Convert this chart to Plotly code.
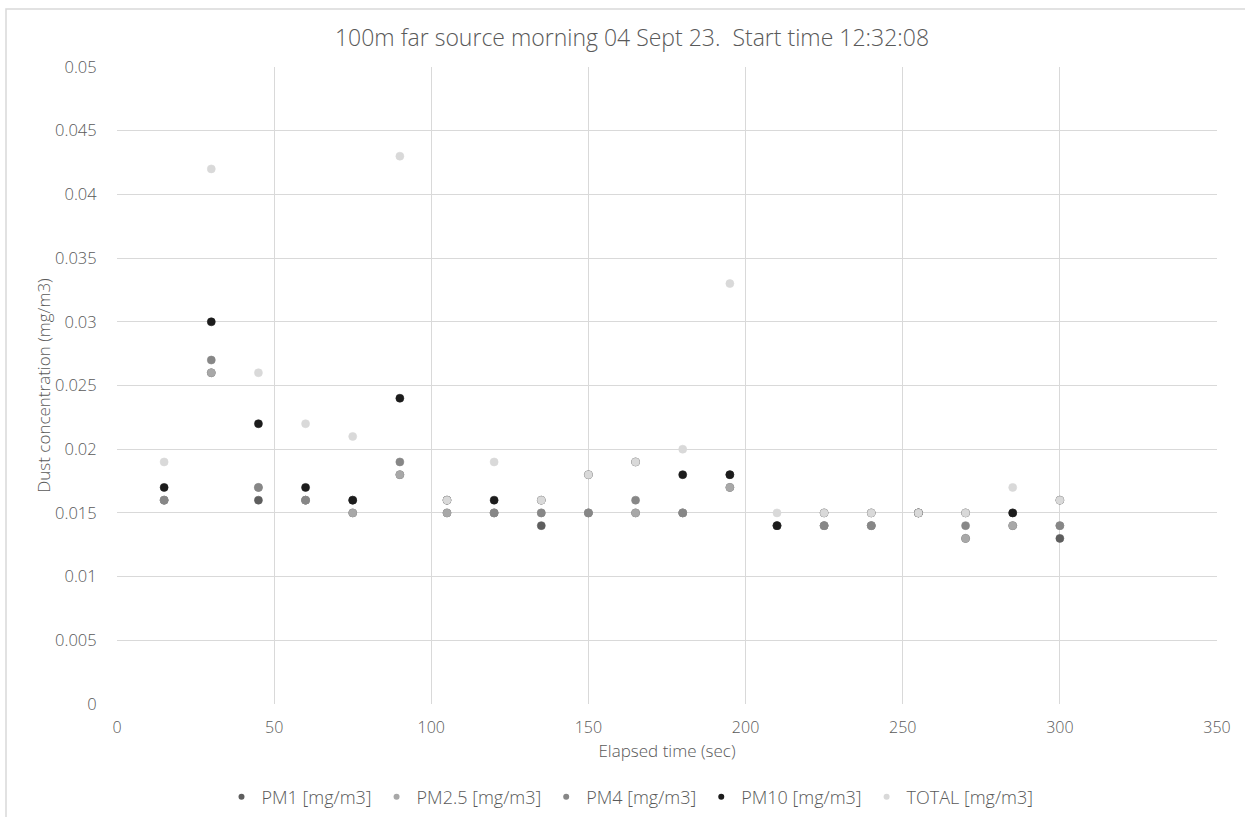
import plotly.graph_objects as go

# Elapsed time of each reading (seconds)
elapsed = [15, 30, 45, 60, 75, 90, 105, 120, 135, 150,
           165, 180, 195, 210, 225, 240, 255, 270, 285, 300]

# Dust concentration readings (mg/m3)
pm1 = [0.016, 0.026, 0.016, 0.016, 0.015, 0.018, 0.015, 0.015, 0.014, 0.015,
       0.015, 0.015, 0.017, 0.014, 0.014, 0.014, 0.015, 0.013, 0.014, 0.013]
pm25 = [0.016, 0.026, 0.017, 0.016, 0.015, 0.018, 0.015, 0.015, 0.015, 0.015,
        0.015, 0.015, 0.017, 0.014, 0.014, 0.014, 0.015, 0.013, 0.014, 0.014]
pm4 = [0.016, 0.027, 0.017, 0.016, 0.016, 0.019, 0.016, 0.015, 0.015, 0.015,
       0.016, 0.015, 0.018, 0.014, 0.014, 0.014, 0.015, 0.014, 0.015, 0.014]
pm10 = [0.017, 0.030, 0.022, 0.017, 0.016, 0.024, 0.016, 0.016, 0.016, 0.018,
        0.019, 0.018, 0.018, 0.014, 0.015, 0.015, 0.015, 0.015, 0.015, 0.016]
total = [0.019, 0.042, 0.026, 0.022, 0.021, 0.043, 0.016, 0.019, 0.016, 0.018,
         0.019, 0.020, 0.033, 0.015, 0.015, 0.015, 0.015, 0.015, 0.017, 0.016]

series_names = ["PM1 [mg/m3]", "PM2.5 [mg/m3]", "PM4 [mg/m3]", "PM10 [mg/m3]", "TOTAL [mg/m3]"]
series_values = [pm1, pm25, pm4, pm10, total]
series_colors = ["#5e5e5e", "#a8a8a8", "#878787", "#1c1c1c", "#d9d9d9"]

x_ticks = [0, 50, 100, 150, 200, 250, 300, 350]
y_ticks = [0, 0.005, 0.01, 0.015, 0.02, 0.025, 0.03, 0.035, 0.04, 0.045, 0.05]
y_tick_text = ["0", "0.005", "0.01", "0.015", "0.02", "0.025", "0.03", "0.035", "0.04", "0.045", "0.05"]

FONT = "Open Sans"
TEXT = "#595959"

fig = go.Figure()
for name, vals, col in zip(series_names, series_values, series_colors):
    fig.add_trace(go.Scatter(
        x=elapsed, y=vals, mode="markers", name=name, legendgroup=name, showlegend=False,
        marker=dict(size=8, color=col, line=dict(width=0.6, color=col)),
    ))
# Legend keys use smaller dots than the plotted markers
for name, col in zip(series_names, series_colors):
    fig.add_trace(go.Scatter(
        x=[None], y=[None], mode="markers", name=name, legendgroup=name,
        marker=dict(size=6, color=col),
    ))

W, H = 1245, 817
L, R, T, B = 117, 28, 67, 113

fig.update_layout(
    width=W, height=H,
    margin=dict(l=L, r=R, t=T, b=B),
    paper_bgcolor="white", plot_bgcolor="white",
    font=dict(family=FONT, color=TEXT, size=14, weight=300),
    title=dict(text="100m far source morning 04 Sept 23.  Start time 12:32:08",
               x=632 / W, xref="container", xanchor="center",
               y=1 - 38 / H, yanchor="middle",
               font=dict(family=FONT, size=23, color=TEXT, weight=300)),
    xaxis=dict(range=[0, 350], tickvals=x_ticks, showgrid=True, gridcolor="#d9d9d9",
               gridwidth=1, zeroline=False, showline=False, ticks="",
               tickfont=dict(size=16, color=TEXT, weight=300), ticklabelstandoff=12,
               title=dict(text="Elapsed time (sec)", font=dict(size=17, color=TEXT, weight=300),
                          standoff=8)),
    yaxis=dict(range=[0, 0.05], tickvals=y_ticks, ticktext=y_tick_text, showgrid=True,
               gridcolor="#d9d9d9", gridwidth=1, zeroline=False, showline=False,
               ticks="outside", ticklen=16, tickcolor="rgba(0,0,0,0)",
               tickfont=dict(size=16.5, color=TEXT, weight=300),
               title=dict(text="Dust concentration (mg/m3)",
                          font=dict(size=17, color=TEXT, weight=300), standoff=0)),
    legend=dict(orientation="h", x=630 / W, xref="container", xanchor="center",
                y=1 - 797 / H, yref="container", yanchor="middle",
                font=dict(size=18, color=TEXT, weight=300), itemwidth=30,
                traceorder="normal", bgcolor="rgba(0,0,0,0)"),
    showlegend=True,
)

# Chart-area frame
fig.add_shape(type="rect", xref="paper", yref="paper",
              x0=(6 - L) / (W - L - R), x1=(W + 5 - L) / (W - L - R),
              y0=-(H + 5 - (H - B)) / (H - T - B), y1=1 + (T - 9) / (H - T - B),
              line=dict(color="#d9d9d9", width=1.5), fillcolor="rgba(0,0,0,0)", layer="below")

fig.write_html("out.html")
